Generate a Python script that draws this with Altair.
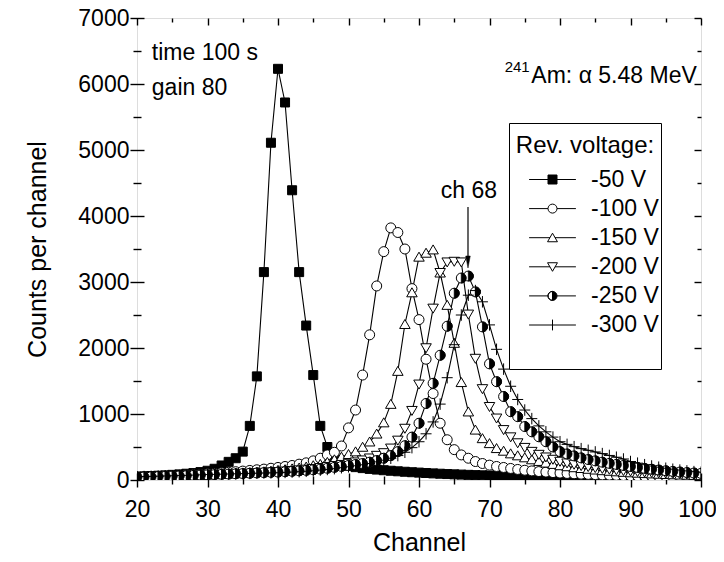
import altair as alt
import pandas as pd

FONT = "Liberation Sans"

channels = list(range(20, 101))
series_names = ["-50 V", "-100 V", "-150 V", "-200 V", "-250 V", "-300 V"]

counts_50 = [50, 55, 60, 65, 70, 78, 85, 95, 105, 120,
             140, 170, 220, 275, 330, 430, 820, 1570, 3150, 5110,
             6230, 5720, 4390, 3150, 2340, 1590, 820, 500, 320, 250,
             215, 195, 180, 168, 158, 148, 140, 132, 125, 118,
             112, 106, 100, 95, 90, 86, 82, 78, 74, 71,
             68, 65, 62, 60, 57, 55, 53, 51, 49, 47,
             45, 44, 42, 41, 40, 38, 37, 36, 35, 34,
             33, 32, 31, 30, 30, 29, 28, 27, 27, 26, 25]
counts_100 = [45, 48, 52, 56, 60, 65, 70, 75, 82, 88,
              95, 102, 110, 118, 126, 135, 145, 155, 165, 178,
              190, 205, 220, 240, 260, 290, 330, 380, 420, 515,
              790, 1060, 1590, 2200, 2940, 3460, 3820, 3750, 3500, 2900,
              2430, 1830, 1310, 860, 610, 460, 380, 330, 280, 250,
              225, 205, 190, 175, 160, 148, 138, 128, 120, 112,
              105, 99, 94, 89, 85, 81, 77, 74, 71, 68,
              65, 63, 61, 59, 57, 55, 53, 52, 50, 49, 48]
counts_150 = [40, 42, 45, 48, 51, 55, 59, 63, 68, 73,
              78, 83, 88, 93, 99, 105, 112, 120, 128, 138,
              150, 160, 172, 185, 200, 220, 240, 270, 310, 350,
              390, 430, 500, 580, 700, 870, 1150, 1650, 2360, 2840,
              3380, 3440, 3490, 3140, 2650, 2075, 1480, 1035, 760, 630,
              555, 480, 440, 400, 370, 340, 310, 285, 260, 240,
              220, 205, 190, 178, 166, 155, 145, 136, 128, 120,
              113, 107, 101, 96, 91, 87, 83, 79, 76, 73, 70]
counts_200 = [40, 42, 44, 47, 50, 53, 56, 60, 64, 68,
              72, 76, 80, 85, 90, 95, 100, 106, 112, 118,
              125, 132, 140, 150, 160, 170, 185, 200, 215, 232,
              250, 270, 300, 330, 370, 410, 480, 600, 780, 1050,
              1450, 2000, 2600, 3140, 3300, 3310, 3300, 2510, 1840, 1380,
              1110, 935, 760, 650, 560, 490, 430, 385, 345, 310,
              280, 255, 235, 215, 200, 185, 172, 160, 150, 140,
              132, 124, 117, 111, 105, 100, 95, 90, 86, 82, 78]
counts_250 = [45, 47, 50, 53, 56, 59, 62, 66, 70, 74,
              78, 82, 86, 90, 94, 98, 102, 107, 112, 116,
              120, 126, 132, 139, 146, 155, 165, 178, 192, 206,
              220, 235, 250, 270, 295, 330, 370, 430, 520, 650,
              860, 1160, 1465, 1890, 2330, 2830, 3060, 3090, 2850, 2320,
              1760, 1490, 1265, 1035, 960, 810, 730, 655, 580, 500,
              430, 395, 365, 335, 310, 290, 270, 252, 236, 220,
              205, 190, 176, 163, 151, 140, 130, 121, 113, 106, 100]
counts_300 = [50, 52, 55, 58, 61, 64, 67, 70, 74, 78,
              82, 85, 88, 91, 94, 97, 100, 103, 106, 108,
              110, 115, 120, 126, 132, 140, 150, 160, 172, 186,
              200, 215, 230, 250, 275, 300, 330, 370, 420, 490,
              580, 700, 880, 1150, 1550, 2050, 2500, 2800, 2870, 2700,
              2350, 1980, 1680, 1420, 1220, 1060, 930, 820, 730, 650,
              580, 540, 505, 475, 450, 425, 400, 372, 345, 318,
              280, 255, 232, 212, 194, 178, 163, 150, 138, 127, 117]

all_counts = [counts_50, counts_100, counts_150, counts_200, counts_250, counts_300]

x_ticks_major = list(range(20, 101, 10))
x_ticks_minor = list(range(25, 100, 10))
y_ticks_major = list(range(0, 7001, 1000))
y_ticks_minor = list(range(500, 7000, 1000))

rows = []
for name, vals in zip(series_names, all_counts):
    for ch, v in zip(channels, vals):
        rows.append({"series": name, "channel": ch, "counts": v})
df = pd.DataFrame(rows)

# marker shapes (custom symbol paths, unit ~[-1, 1])
marker_paths = [
    "M-0.9,-0.9L0.9,-0.9L0.9,0.9L-0.9,0.9Z",
    "M-1,0A1,1 0 1,1 1,0A1,1 0 1,1 -1,0Z",
    "M0,-0.95L1.05,0.85L-1.05,0.85Z",
    "M0,0.95L1.05,-0.85L-1.05,-0.85Z",
    "M-1,0A1,1 0 1,1 1,0A1,1 0 1,1 -1,0Z",
    "M-1.1,0L1.1,0M0,-1.15L0,1.15",
]
marker_fills = ["black", "white", "white", "white", "white", "white"]
half_path = "M0,-1A1,1 0 0,1 0,1Z"

# legend: names padded (width of the box), plus one blank row at the bottom
NB = "\u00a0" * 4
spacers = ["s1"]
legend_domain = [n + NB for n in series_names] + spacers
L = 5.2
legend_paths = [
    f"M-{L},0L{L},0M-1,-1L1,-1L1,1L-1,1Z",
    f"M-{L},0L-1,0M1,0L{L},0M-1,0A1,1 0 1,1 1,0A1,1 0 1,1 -1,0Z",
    f"M-{L},0L-0.55,0M0.55,0L{L},0M0,-1L1.1,0.9L-1.1,0.9Z",
    f"M-{L},0L-0.55,0M0.55,0L{L},0M0,1L1.1,-0.9L-1.1,-0.9Z",
    f"M-{L},0L-1,0M1,0L{L},0M0,-1A1,1 0 0,0 0,1A1,1 0 0,1 0,-1M0,-1A1,1 0 0,1 0,1Z",
    f"M-{L},0L{L},0M0,-1.2L0,1.2",
] + ["M0,0"] * len(spacers)
legend_fills = ["black", "white", "white", "white", "black", "white"] + ["white"] * len(spacers)
legend_strokes = ["black"] * 6 + ["white"] * len(spacers)

xs = alt.Scale(domain=[20, 100], nice=False, zero=False)
ys = alt.Scale(domain=[0, 7000], nice=False)


def ax(orient, values, size, offset, labels=False, title=None, **kw):
    return alt.Axis(orient=orient, values=values, tickSize=size, offset=offset,
                    labels=labels, title=title, domain=False, grid=False,
                    ticks=True, tickColor="black", tickWidth=1.4, **kw)


lab = dict(labelFont=FONT, labelFontSize=23, labelColor="black",
           titleFont=FONT, titleFontSize=25, titleFontWeight="normal",
           titleColor="black")

x_bottom = ax("bottom", x_ticks_major, 14, -7, labels=True, title="Channel",
              labelPadding=11, titlePadding=9, labelFlush=False,
              labelOffset={"condition": {"test": "datum.value == 100", "value": -4}, "value": 0},
              **lab)
y_left = ax("left", y_ticks_major, 14, -7, labels=True, title="Counts per channel",
            labelPadding=1, titlePadding=27, format="d", **lab)
x_bottom_minor = ax("bottom", x_ticks_minor, 8, -4)
y_left_minor = ax("left", y_ticks_minor, 8, -4)
x_top = ax("top", x_ticks_major, 7, -7)
y_right = ax("right", y_ticks_major, 7, -7)
x_top_minor = ax("top", x_ticks_minor, 4, -4)
y_right_minor = ax("right", y_ticks_minor, 4, -4)

base = alt.Chart(df)

lines = base.mark_line(color="black", strokeWidth=1.1, clip=True).encode(
    x=alt.X("channel:Q", scale=xs, axis=x_bottom),
    y=alt.Y("counts:Q", scale=ys, axis=y_left),
    detail="series:N",
)

points = base.mark_point(stroke="black", strokeWidth=1, opacity=1, size=100, clip=True).encode(
    x=alt.X("channel:Q", scale=xs, axis=x_bottom_minor),
    y=alt.Y("counts:Q", scale=ys, axis=y_left_minor),
    shape=alt.Shape("series:N", scale=alt.Scale(domain=series_names, range=marker_paths), legend=None),
    fill=alt.Fill("series:N", scale=alt.Scale(domain=series_names, range=marker_fills), legend=None),
)

half = base.transform_filter(alt.datum.series == "-250 V").mark_point(
    fill="black", stroke="black", strokeWidth=0.8, opacity=1, size=100,
    shape=half_path, filled=True, clip=True).encode(
    x=alt.X("channel:Q", scale=xs, axis=x_top),
    y=alt.Y("counts:Q", scale=ys, axis=y_right),
)

# annotations
ann_text = ["time 100 s", "gain 80", "ch 68"]
ann_x = [22.1, 22.1, 63.1]
ann_y = [6364, 5833, 4273]
ann = pd.DataFrame({"text": ann_text, "channel": ann_x, "counts": ann_y})

texts = alt.Chart(ann).mark_text(font=FONT, fontSize=23, align="left", baseline="alphabetic",
                                 color="black").encode(
    x=alt.X("channel:Q", scale=xs, axis=x_top_minor),
    y=alt.Y("counts:Q", scale=ys, axis=y_right_minor),
    text="text:N",
)

iso_df = pd.DataFrame({"text": ["Am: \u03b1 5.48 MeV"], "channel": [99.4], "counts": [6015]})
iso = alt.Chart(iso_df).mark_text(font=FONT, fontSize=23, align="right", baseline="alphabetic",
                                  color="black").encode(
    x=alt.X("channel:Q", scale=xs, axis=None),
    y=alt.Y("counts:Q", scale=ys, axis=None),
    text="text:N",
)
sup_df = pd.DataFrame({"text": ["241"], "channel": [75.7], "counts": [6180]})
sup = alt.Chart(sup_df).mark_text(font=FONT, fontSize=15, align="right", baseline="alphabetic",
                                  color="black").encode(
    x=alt.X("channel:Q", scale=xs, axis=None),
    y=alt.Y("counts:Q", scale=ys, axis=None),
    text="text:N",
)

arrow_df = pd.DataFrame({"channel": [66.95], "top": [4136], "bottom": [3303]})
arrow_line = alt.Chart(arrow_df).mark_rule(color="black", strokeWidth=1.2).encode(
    x=alt.X("channel:Q", scale=xs, axis=None),
    y=alt.Y("top:Q", scale=ys, axis=None),
    y2="bottom:Q",
)
arrow_head = alt.Chart(arrow_df).mark_point(
    shape="M-0.38,-1L0.38,-1L0,1Z", size=144, filled=True, fill="black",
    stroke="black", strokeWidth=0.5, opacity=1).encode(
    x=alt.X("channel:Q", scale=xs, axis=None),
    y=alt.Y("bottom:Q", scale=ys, axis=None),
)

leg = alt.Legend(
    title=["", "Rev. voltage:"], orient="none", legendX=372, legendY=105, direction="vertical",
    strokeColor="black", fillColor="white", padding=2, cornerRadius=0,
    titleFont=FONT, titleFontSize=24, titleFontWeight="normal", titleColor="black",
    titleLineHeight=9, titlePadding=10, titleAnchor="middle",
    labelFont=FONT, labelFontSize=23, labelColor="black", labelOffset=27,
    symbolOffset=30, symbolSize=81, symbolStrokeWidth=1, symbolStrokeColor="black",
    rowPadding=5.1, labelExpr="indexof(datum.label, 'V') >= 0 ? datum.label : '\u00a0'",
)

legend_layer = base.transform_filter("false").mark_point(
    stroke="black", strokeWidth=1, opacity=1, size=81).encode(
    x=alt.X("channel:Q", scale=xs, axis=None),
    y=alt.Y("counts:Q", scale=ys, axis=None),
    shape=alt.Shape("series:N", scale=alt.Scale(domain=legend_domain, range=legend_paths),
                    legend=leg, title=["", "Rev. voltage:"]),
    fill=alt.Fill("series:N", scale=alt.Scale(domain=legend_domain, range=legend_fills),
                  legend=leg, title=["", "Rev. voltage:"]),
    stroke=alt.Stroke("series:N", scale=alt.Scale(domain=legend_domain, range=legend_strokes),
                      legend=leg, title=["", "Rev. voltage:"]),
)

chart = alt.layer(
    lines, points, half, texts, iso, sup, arrow_line, arrow_head, legend_layer
).resolve_axis(x="independent", y="independent").resolve_scale(
    shape="independent", fill="independent", stroke="independent"
).properties(
    width=564, height=462,
    autosize=alt.AutoSizeParams(type="none"),
    padding={"left": 129, "top": 10, "right": 15, "bottom": 74},
).configure_view(stroke="black", strokeWidth=1.6).configure(background="white")

chart.save("out.html", embed_options={"renderer": "svg", "actions": False})
